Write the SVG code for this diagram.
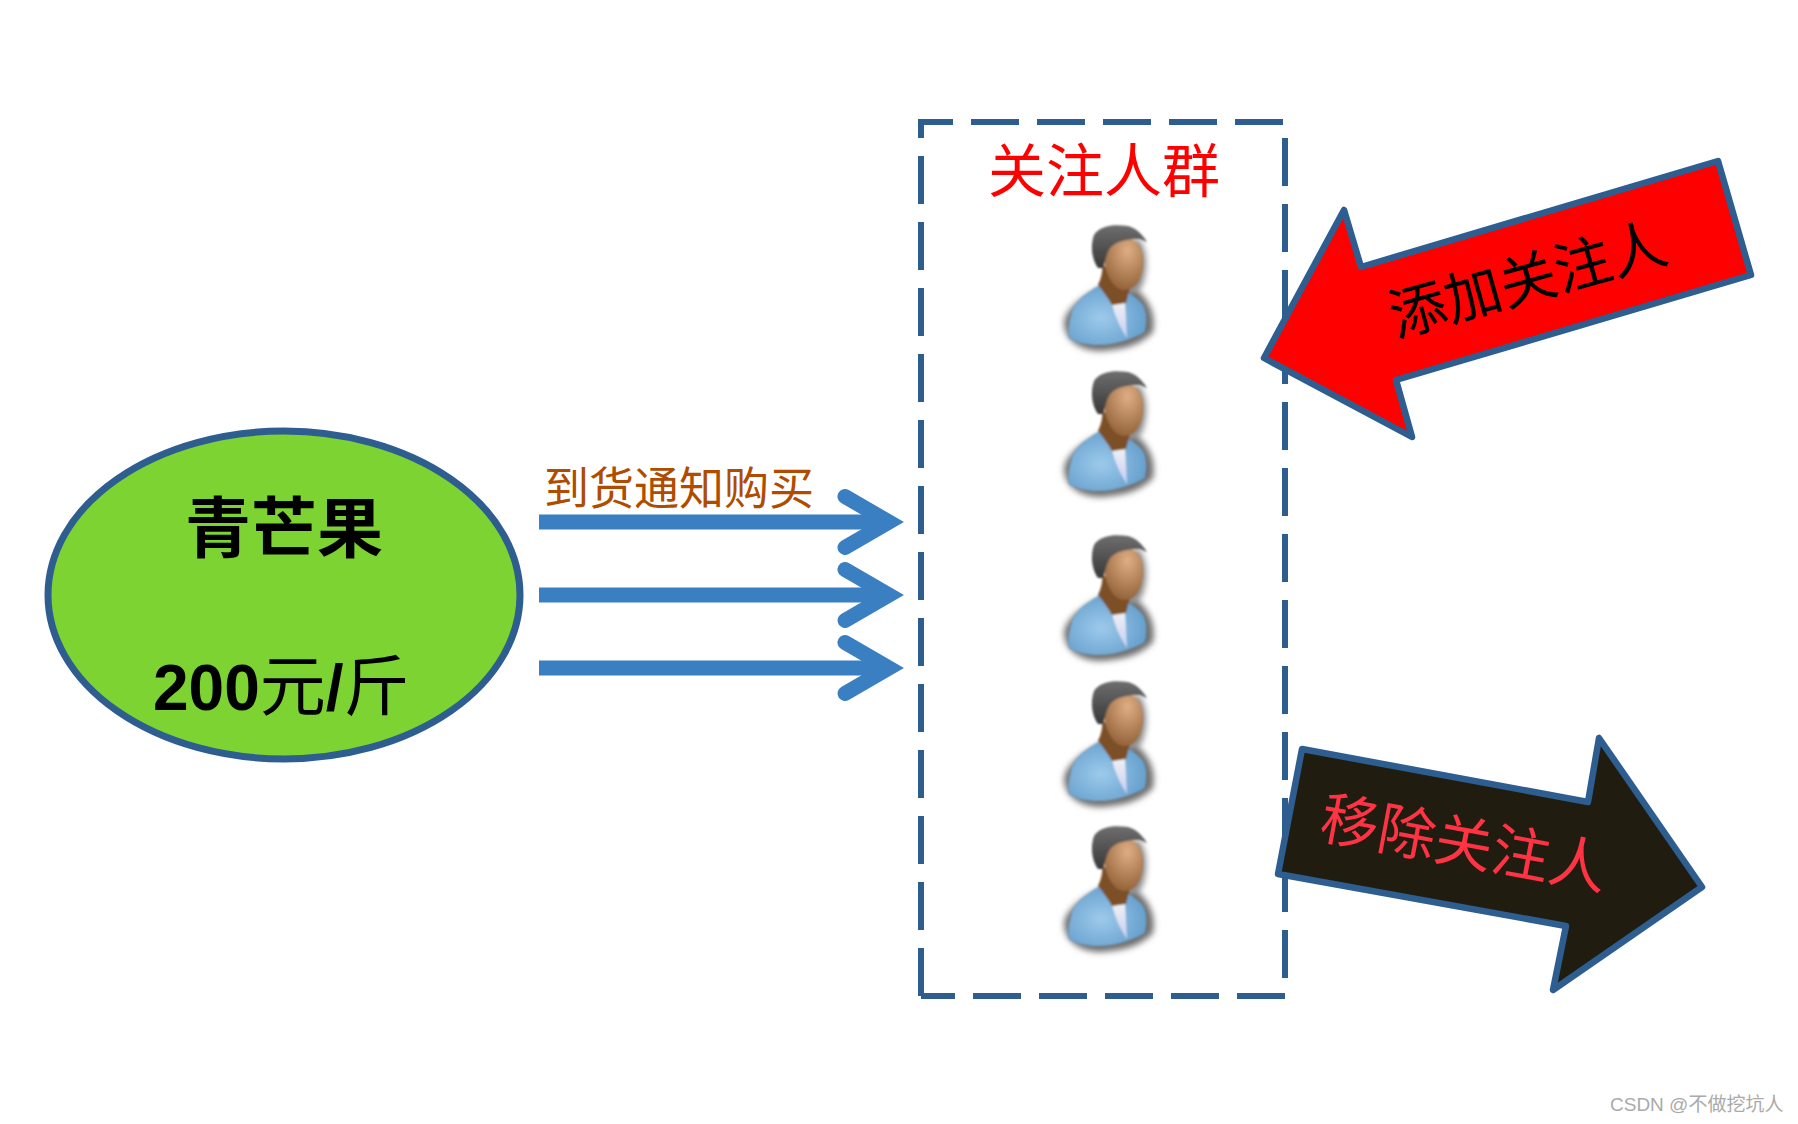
<svg xmlns="http://www.w3.org/2000/svg" width="1798" height="1124" viewBox="0 0 1798 1124">
<style>
.t{font-family:"Liberation Serif","Noto Sans CJK SC",serif}
.h{font-family:"Liberation Sans","Noto Sans CJK SC",sans-serif}
.a{fill:none;stroke:#3a7fc1;stroke-width:15}
.b{fill:none;stroke:#3a7fc1;stroke-width:15;stroke-linecap:round}
.s{stroke:#2e5d90;stroke-width:6.5;stroke-linejoin:round}
.f{fill:none;stroke:#2e5d90;stroke-width:6;stroke-dasharray:48 18}
</style>
<defs>
<filter id="bl" x="-30%" y="-30%" width="160%" height="160%"><feGaussianBlur stdDeviation="3"/></filter>
<filter id="b1" x="-10%" y="-10%" width="120%" height="120%"><feGaussianBlur stdDeviation="0.9"/></filter>
<radialGradient id="skin" cx="0.6" cy="0.25" r="0.8"><stop offset="0" stop-color="#dfae84"/><stop offset="1" stop-color="#8f5f35"/></radialGradient>
<linearGradient id="hair" x1="0" y1="0" x2="0" y2="1"><stop offset="0" stop-color="#6e6e6e"/><stop offset="1" stop-color="#383838"/></linearGradient>
<radialGradient id="body" cx="0.42" cy="0.55" r="0.7"><stop offset="0" stop-color="#9dcaeb"/><stop offset="1" stop-color="#5c98c8"/></radialGradient>
<linearGradient id="shirt" x1="0" y1="0" x2="0" y2="1"><stop offset="0" stop-color="#f0f2f6"/><stop offset="1" stop-color="#c6cdf0"/></linearGradient>
<g id="p">
<path d="M24 112C26 98 45 85 60 78L95 78C110 90 116 105 113 122C100 136 80 140 60 141C40 141 24 130 24 112Z" fill="#6e6e6e" filter="url(#bl)"/>
<path d="M98 28C108 40 108 60 102 76C98 82 92 84 86 84L80 40Z" fill="#8a8a8a" filter="url(#bl)"/>
<g filter="url(#b1)">
<path d="M60 75C45 84 33 92 31 105C28 115 28 122 29 128C45 138 70 136 87 130C95 127 103 124 105 121C107 112 107 102 103 95C98 89 93 85 87 82L85 93L72 93Z" fill="url(#body)"/>
<path d="M72 93L85 92L87 128C80 118 74 104 72 93Z" fill="url(#shirt)"/>
<path d="M58 75C61 68 63 62 62 54L90 78L86 93L72 95C68 88 63 81 58 75Z" fill="#7d4f28"/>
<path d="M64 46C64 32 76 26 88 28C98 30 104 40 103 54C102 68 96 80 84 80C74 80 64 64 64 46Z" fill="url(#skin)"/>
<path d="M58 58C52 50 50 36 54 25C60 15 75 14 88 16C96 18 102 24 107 32L100 29C90 29 78 30 71 37C67 42 66 48 63 58Z" fill="url(#hair)"/>
</g>
</g>
</defs>
<rect width="1798" height="1124" fill="#fff"/>
<g id="frame">
<path class="f" d="M921 138V122H1285V996H921"/>
<path class="f" d="M921 996V156"/>
</g>
<g id="connectors">
<path class="a" d="M539 522H885"/><path class="b" d="M845 496.500L889 522L845 547.500"/>
<path class="a" d="M539 595H885"/><path class="b" d="M845 569.500L889 595L845 620.500"/>
<path class="a" d="M539 668H885"/><path class="b" d="M845 642.500L889 668L845 693.500"/>
</g>
<g id="node-mango">
<ellipse class="s" cx="284" cy="595" rx="236" ry="164" fill="#7dd332" style="stroke-width:7"/>
<text class="t" x="284" y="552" font-size="66" text-anchor="middle" font-weight="700">青芒果</text>
<text class="h" x="153" y="710" font-size="64"><tspan font-weight="700">200</tspan><tspan font-size="66">元</tspan><tspan font-weight="700">/</tspan><tspan font-size="66">斤</tspan></text>
</g>
<text class="t" x="544" y="505" font-size="45" fill="#b04c00">到货通知购买</text>
<text class="t" x="1104" y="192" font-size="58" fill="#f00" text-anchor="middle">关注人群</text>
<use id="person-1" href="#p" x="1040" y="210"/>
<use id="person-2" href="#p" x="1040" y="356"/>
<use id="person-3" href="#p" x="1040" y="520"/>
<use id="person-4" href="#p" x="1040" y="666"/>
<use id="person-5" href="#p" x="1040" y="811"/>
<g id="node-add">
<path class="s" d="M1718 161L1751 275L1396 380L1412 437L1264 358L1344 210L1361 267Z" fill="#f00"/>
<text class="t" x="1528" y="300" font-size="57" text-anchor="middle" transform="rotate(-15.500 1528 280)">添加关注人</text>
</g>
<g id="node-remove">
<path class="s" d="M1302 749L1278 874L1566 926L1553 990L1702 887L1599 738L1588 802Z" fill="#201d10"/>
<text class="t" x="1464" y="864" font-size="58" fill="#ff3344" text-anchor="middle" transform="rotate(10.500 1464 844)">移除关注人</text>
</g>
<text class="h" x="1610" y="1111" font-size="19" fill="#aaa">CSDN @不做挖坑人</text>
</svg>
